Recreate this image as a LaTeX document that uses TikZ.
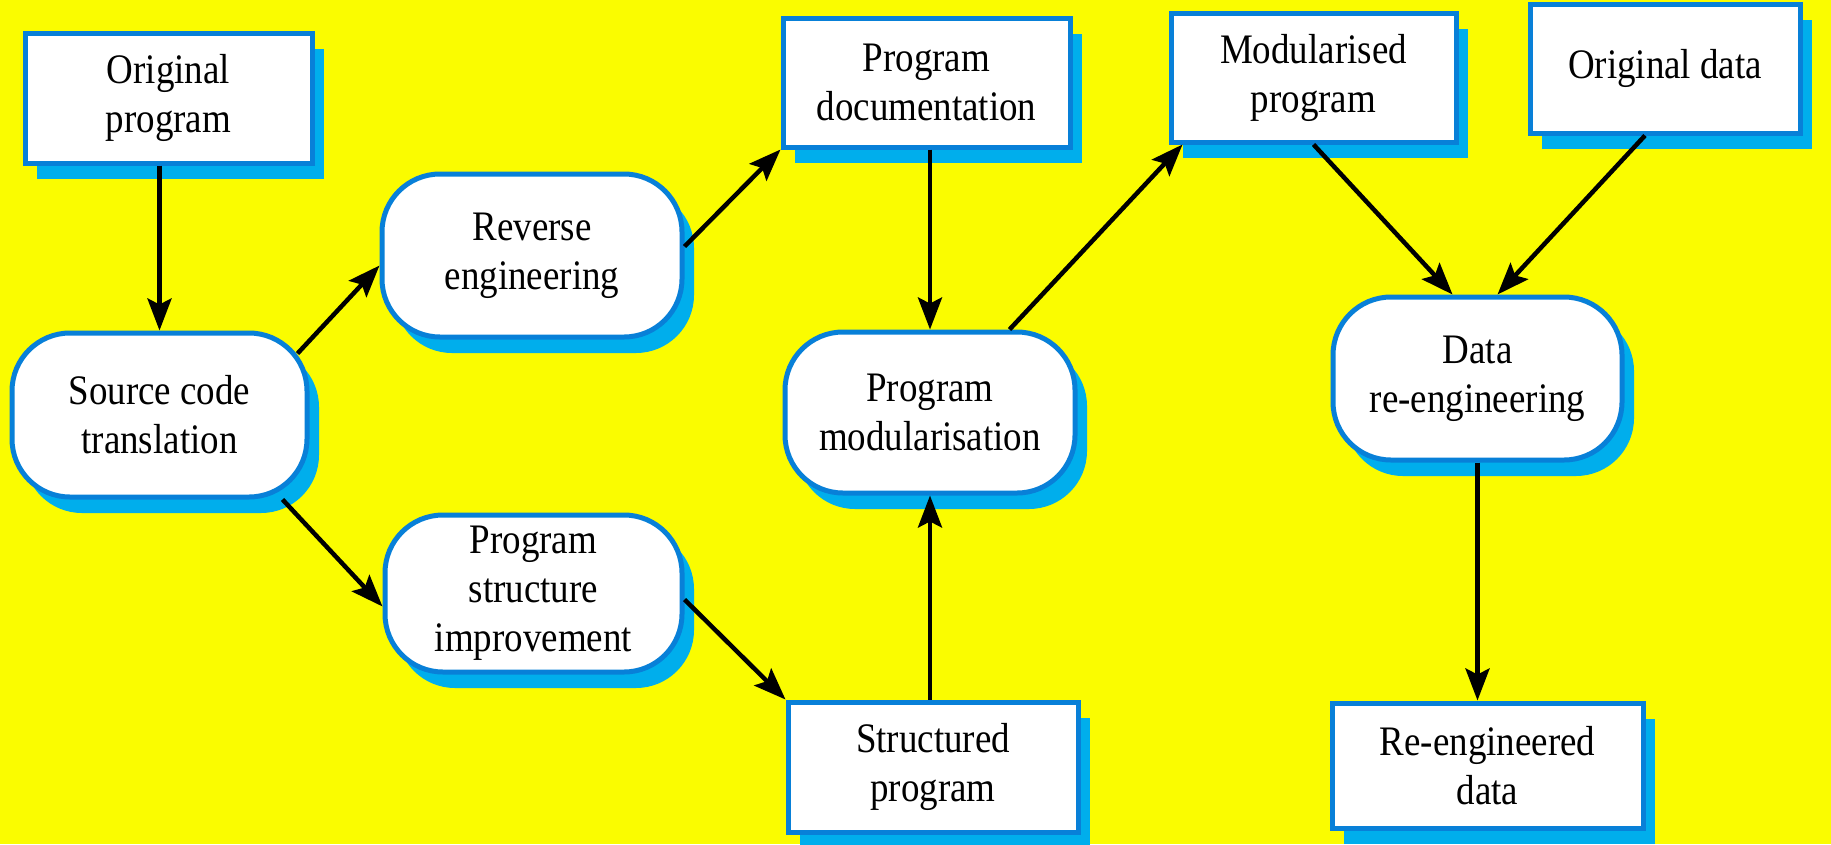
\documentclass[tikz,border=0pt]{standalone}
\usepackage{fontspec}
\setmainfont{Liberation Serif}[FakeStretch=0.88]
\usetikzlibrary{shadows,calc,arrows.meta}

\definecolor{bgyellow}{RGB}{250,252,0}
\definecolor{edgeblue}{RGB}{8,128,216}
\definecolor{shadowcyan}{RGB}{0,174,236}

\tikzset{
  basebox/.style={draw=edgeblue, line width=5pt, fill=white, align=center,
    inner sep=0pt, font=\fontsize{42}{49}\selectfont,
    drop shadow={shadow xshift=12pt, shadow yshift=-16pt, fill=shadowcyan, opacity=1}},
  rectbox/.style={basebox, rectangle},
  procbox/.style={basebox, rectangle, rounded corners=58pt},
  flow/.style={line width=4.5pt, draw=black,
    -{Stealth[length=32pt, width=24pt, inset=6pt]}},
}

\begin{document}
\begin{tikzpicture}[x=1pt, y=-1pt]
  % canvas
  \fill[bgyellow] (0,0) rectangle (1831,844);
  \useasboundingbox (0,0) rectangle (1831,844);

  % input / output documents
  \node[rectbox, minimum width=287pt, minimum height=130pt] (orig)  at (168.5,98)   {Original\\program};
  \node[rectbox, minimum width=287pt, minimum height=129pt] (doc)   at (926.5,82.5) {Program\\documentation};
  \node[rectbox, minimum width=290pt, minimum height=130pt] (struct) at (933,767)   {Structured\\program};
  \node[rectbox, minimum width=285pt, minimum height=129pt] (modp)  at (1313.5,77.5) {Modularised\\program};
  \node[rectbox, minimum width=270pt, minimum height=129pt] (odata) at (1665,68.5)  {Original data};
  \node[rectbox, minimum width=311pt, minimum height=125pt] (rdata) at (1487.5,765.5) {Re-engineered\\data};

  % re-engineering activities
  \node[procbox, minimum width=295pt, minimum height=164pt] (src) at (159.5,415)  {Source code\\translation};
  \node[procbox, minimum width=300pt, minimum height=163pt] (rev) at (532,255.5)  {Reverse\\engineering};
  \node[procbox, minimum width=297pt, minimum height=157pt] (psi) at (533.5,593.5) {Program\\structure\\improvement};
  \node[procbox, minimum width=290pt, minimum height=161pt] (mod) at (930,412.5)  {Program\\modularisation};
  \node[procbox, minimum width=289pt, minimum height=163pt] (dre) at (1477.5,378.5) {Data\\re-engineering};

  % flows
  \draw[flow] (orig.south -| src.north) -- (src.north);
  \draw[flow] ($(src.north east)+(-12,23)$) -- ($(rev.west)+(0,10)$);
  \draw[flow] ($(rev.east)+(0,-9)$) -- (doc.south west);
  \draw[flow] (doc.south -| mod.north) -- (mod.north);
  \draw[flow] ($(src.south east)+(-27,0)$) -- ($(psi.west)+(0,13)$);
  \draw[flow] ($(psi.east)+(0,6)$) -- (struct.north west);
  \draw[flow] (struct.north -| mod.south) -- (mod.south);
  \draw[flow] ($(mod.north east)+(-68,0)$) -- ($(modp.south west)+(14,0)$);
  \draw[flow] (modp.south) -- ($(dre.north)+(-25,0)$);
  \draw[flow] ($(odata.south)+(-20,0)$) -- ($(dre.north)+(20,0)$);
  \draw[flow] (dre.south) -- (dre.south |- rdata.north);
\end{tikzpicture}
\end{document}
